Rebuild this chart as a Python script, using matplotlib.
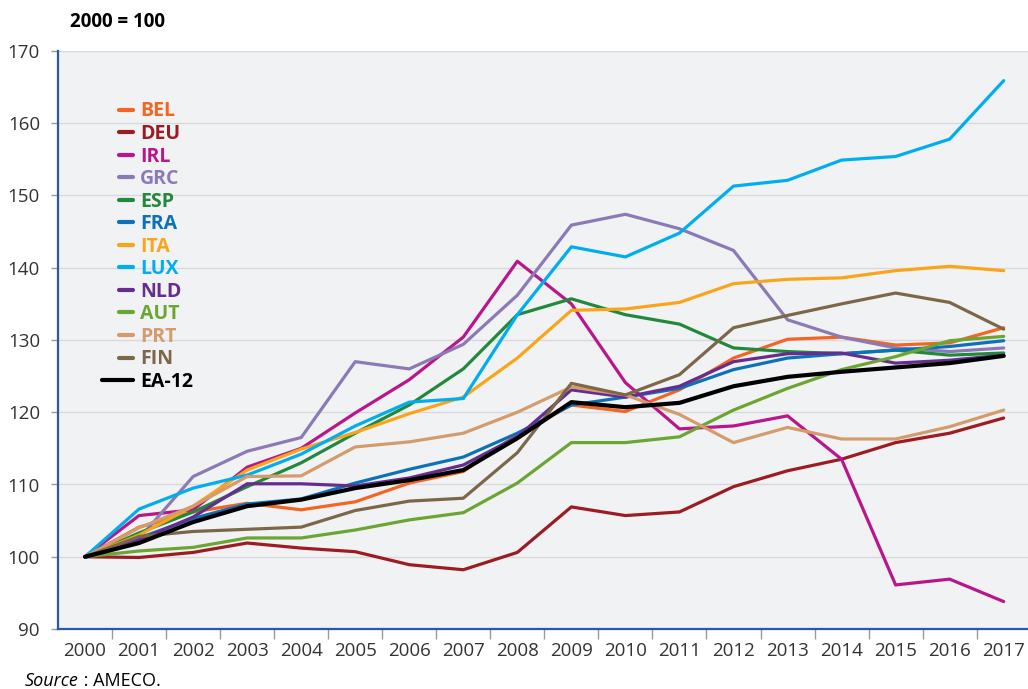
import matplotlib.pyplot as plt
import numpy as np
from matplotlib.legend_handler import HandlerLine2D

# Données (2000 = 100)
annees = [str(a) for a in range(2000, 2018)]

BEL = [100, 104.1, 106.2, 107.4, 106.5, 107.6, 110.2, 111.8, 116.9, 121.0, 120.1, 123.1, 127.5, 130.1, 130.4, 129.3, 129.6, 131.7]
DEU = [100, 99.9, 100.6, 101.9, 101.2, 100.7, 98.9, 98.2, 100.6, 106.9, 105.7, 106.2, 109.7, 111.9, 113.5, 115.8, 117.1, 119.2]
IRL = [100, 105.7, 106.5, 112.4, 115.0, 119.9, 124.5, 130.4, 140.9, 135.0, 124.1, 117.7, 118.1, 119.5, 113.5, 96.1, 96.9, 93.8]
GRC = [100, 102.5, 111.1, 114.6, 116.5, 127.0, 126.0, 129.4, 136.2, 145.9, 147.4, 145.4, 142.4, 132.8, 130.4, 128.9, 128.4, 128.9]
ESP = [100, 103.3, 106.2, 109.7, 113.0, 117.1, 121.0, 126.0, 133.5, 135.7, 133.5, 132.2, 128.9, 128.4, 128.1, 128.6, 127.9, 128.2]
FRA = [100, 102.6, 105.3, 107.3, 108.0, 110.2, 112.1, 113.8, 117.1, 121.0, 122.1, 123.3, 125.9, 127.5, 128.1, 128.6, 129.1, 129.9]
ITA = [100, 103.0, 107.0, 112.0, 114.9, 117.2, 119.8, 122.1, 127.5, 134.1, 134.3, 135.2, 137.8, 138.4, 138.6, 139.6, 140.2, 139.6]
LUX = [100, 106.6, 109.5, 111.3, 114.2, 118.1, 121.4, 121.9, 133.5, 142.9, 141.5, 144.8, 151.3, 152.1, 154.9, 155.4, 157.8, 165.9]
NLD = [100, 102.3, 105.5, 110.1, 110.1, 109.8, 110.9, 112.7, 116.6, 123.1, 122.1, 123.6, 127.0, 128.1, 128.2, 126.8, 127.2, 127.9]
AUT = [100, 100.8, 101.3, 102.6, 102.6, 103.7, 105.1, 106.1, 110.2, 115.8, 115.8, 116.6, 120.3, 123.3, 125.9, 127.7, 129.9, 130.5]
PRT = [100, 104.0, 107.0, 111.1, 111.2, 115.2, 115.9, 117.1, 120.0, 123.5, 122.4, 119.7, 115.8, 117.9, 116.3, 116.3, 118.0, 120.3]
FIN = [100, 102.8, 103.5, 103.8, 104.1, 106.4, 107.7, 108.1, 114.4, 124.0, 122.4, 125.2, 131.7, 133.4, 135.0, 136.5, 135.2, 131.5]
EA12 = [100, 101.9, 104.8, 107.0, 107.9, 109.5, 110.6, 112.0, 116.4, 121.4, 120.7, 121.3, 123.6, 124.9, 125.6, 126.2, 126.8, 127.8]

pays = ['BEL', 'DEU', 'IRL', 'GRC', 'ESP', 'FRA', 'ITA', 'LUX', 'NLD', 'AUT', 'PRT', 'FIN']
series = [BEL, DEU, IRL, GRC, ESP, FRA, ITA, LUX, NLD, AUT, PRT, FIN]
couleurs = ['#f26522', '#9b1c22', '#b8178c', '#8c7ab6', '#22893c', '#0b72b9',
            '#f9a51b', '#00aeef', '#662d91', '#6aa631', '#d49c6c', '#7c6848']

plt.rcParams['font.family'] = ['Open Sans', 'DejaVu Sans']


class LongHandler(HandlerLine2D):
    # poignee plus longue pour EA-12
    def get_xdata(self, legend, xdescent, ydescent, width, height, fontsize):
        xd, xm = super().get_xdata(legend, xdescent, ydescent, width, height, fontsize)
        xd = np.array([xd[0] - 1.2 * width, xd[-1]])
        return xd, xm


fig = plt.figure(figsize=(10.28, 6.89), dpi=100)
ax = fig.add_axes([58 / 1028, 1 - 629 / 689, 970 / 1028, 578 / 689])
ax.set_facecolor('#f1f2f4')

x = np.arange(len(annees))
lignes = []
for nom, s, c in zip(pays, series, couleurs):
    l, = ax.plot(x, s, color=c, lw=2.3, label=nom, solid_capstyle='round')
    lignes.append(l)
l_ea, = ax.plot(x, EA12, color='black', lw=3.0, label='EA-12', solid_capstyle='round')
lignes.append(l_ea)

ax.set_ylim(90, 170)
ax.set_xlim(-0.5, 17.45)
ax.set_yticks(range(90, 171, 10))
ax.yaxis.grid(True, color='#d9d9dc', lw=1)
ax.set_axisbelow(True)

ax.set_xticks(x)
ax.set_xticklabels(annees)
ax.set_xticks(np.arange(0.5, 17, 1), minor=True)
ax.tick_params(axis='x', which='major', length=0, pad=9, labelsize=13.5, labelcolor='#333333')
ax.tick_params(axis='x', which='minor', length=7, width=1, color='#999999')
ax.tick_params(axis='y', length=5, width=1, color='#999999', pad=8, labelsize=13.5, labelcolor='#333333')

for sp in ['top', 'right']:
    ax.spines[sp].set_visible(False)
for sp in ['left', 'bottom']:
    ax.spines[sp].set_color('#2d56a6')
    ax.spines[sp].set_linewidth(1.6)

leg = ax.legend(handles=lignes, loc='upper left', bbox_to_anchor=(119 / 1028, 1 - 101.5 / 689),
                bbox_transform=fig.transFigure, frameon=False, prop={'weight': 'bold', 'size': 14},
                handlelength=0.72, handletextpad=0.36, labelspacing=0.13, borderpad=0, borderaxespad=0,
                labelcolor='linecolor', handler_map={l_ea: LongHandler()})
for h in leg.legend_handles:
    h.set_linewidth(3)

fig.text(70 / 1028, 1 - 22 / 689, '2000 = 100', fontsize=13.5, fontweight='bold', va='center', ha='left')

t1 = fig.text(25 / 1028, 1 - 686 / 689, 'Source', fontsize=13, style='italic', va='baseline', ha='left')
fig.canvas.draw()
bb = t1.get_window_extent()
fig.text(bb.x1 / 1028, 1 - 686 / 689, ' : AMECO.', fontsize=13, va='baseline', ha='left')

fig.savefig('out.png', dpi=100)
